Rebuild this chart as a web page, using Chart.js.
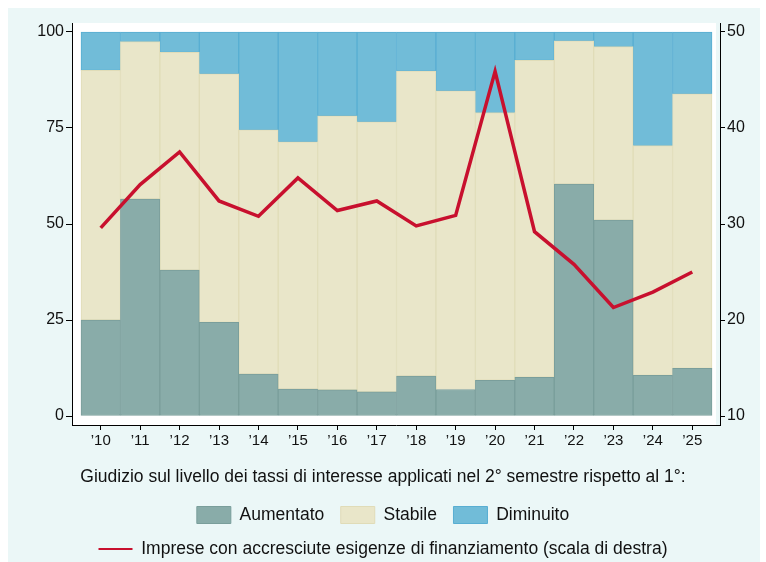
<!DOCTYPE html>
<html>
<head>
<meta charset="utf-8">
<script src="https://cdn.jsdelivr.net/npm/chart.js@4/dist/chart.umd.min.js"></script>
<style>
  html, body { margin: 0; padding: 0; background: #fff; overflow: hidden; }
  #wrap { position: absolute; left: 0; top: 0; width: 766px; height: 562px; overflow: hidden; }
  canvas { position: absolute; left: 0; top: 0; }
</style>
</head>
<body>
<div id="wrap"><canvas id="chart" width="766" height="570"></canvas></div>
<script>
const years = ["’10", "’11", "’12", "’13", "’14", "’15", "’16", "’17", "’18", "’19", "’20", "’21", "’22", "’23", "’24", "’25"];
const aumentato = [25.0, 56.5, 38.0, 24.4, 10.9, 7.0, 6.8, 6.3, 10.4, 6.9, 9.3, 10.1, 60.4, 51.0, 10.6, 12.4];
const stabile = [65.0, 41.0, 56.7, 64.7, 63.6, 64.4, 71.4, 70.3, 79.4, 77.8, 69.7, 82.5, 37.3, 45.2, 59.8, 71.5];
const diminuito = [10.0, 2.5, 5.3, 10.9, 25.5, 28.6, 21.8, 23.4, 10.2, 15.3, 21.0, 7.4, 2.3, 3.8, 29.6, 16.1];
const esigenze = [29.6, 34.1, 37.5, 32.4, 30.8, 34.8, 31.4, 32.4, 29.8, 30.9, 45.9, 29.2, 25.8, 21.3, 22.9, 25.0];
const leftTicks = [0, 25, 50, 75, 100];
const rightTicks = [10, 20, 30, 40, 50];

Chart.defaults.font.family = '"Liberation Sans", Arial, sans-serif';
Chart.defaults.color = '#111';

const toPoints = arr => arr.map((v, i) => ({ x: i, y: v }));

// sfondo azzurro e riquadro bianco del grafico
const backdrop = {
  id: 'backdrop',
  beforeDraw(chart) {
    const { ctx, chartArea: a } = chart;
    ctx.save();
    ctx.fillStyle = '#ebf7f7';
    ctx.fillRect(8, 8, 752, chart.height - 8);
    ctx.fillStyle = '#ffffff';
    ctx.fillRect(a.left + 1, a.top, a.right - a.left - 5, a.bottom - a.top);
    ctx.restore();
  }
};

function barSet(label, data, bg, border) {
  return {
    type: 'bar', label, data: toPoints(data), yAxisID: 'y', stack: 'giudizio',
    backgroundColor: bg, borderColor: border, borderWidth: 1, borderSkipped: false,
    barPercentage: 1, categoryPercentage: 1, order: 1
  };
}

new Chart(document.getElementById('chart'), {
  data: {
    datasets: [
      barSet('Aumentato', aumentato, '#89aca9', '#7a9e9b'),
      barSet('Stabile', stabile, '#e9e6c9', '#e0dcb8'),
      barSet('Diminuito', diminuito, '#71bcd8', '#58aed2'),
      {
        type: 'line', label: 'Imprese con accresciute esigenze di finanziamento (scala di destra)',
        data: toPoints(esigenze), yAxisID: 'y2', borderColor: '#c8102e', backgroundColor: '#c8102e',
        borderWidth: 3.5, pointRadius: 0, tension: 0, order: 0
      }
    ]
  },
  options: {
    responsive: false,
    animation: false,
    layout: { padding: { top: 23, bottom: 2.25, left: 0, right: 0 } },
    scales: {
      x: {
        type: 'linear', min: -0.7282, max: 15.7029, offset: false,
        afterBuildTicks: s => { s.ticks = years.map((_, i) => ({ value: i })); },
        afterFit: s => { s.height = 39.75; },
        ticks: { callback: v => years[v], font: { size: 15 }, color: '#111', padding: 2, maxRotation: 0, autoSkip: false },
        grid: { drawOnChartArea: false, offset: false, tickLength: 5, color: '#000' },
        border: { display: true, color: '#000', width: 1 }
      },
      y: {
        position: 'left', stacked: true, min: -2.34375, max: 102.34375,
        afterBuildTicks: s => { s.ticks = leftTicks.map(v => ({ value: v })); },
        afterFit: s => { s.width = 72; },
        ticks: { font: { size: 16 }, color: '#111', padding: 2 },
        grid: { drawOnChartArea: false, tickLength: 6, color: '#000' },
        border: { display: true, color: '#000', width: 1 }
      },
      y2: {
        position: 'right', min: 9.0625, max: 50.9375,
        afterBuildTicks: s => { s.ticks = rightTicks.map(v => ({ value: v })); },
        afterFit: s => { s.width = 46; },
        ticks: { font: { size: 16 }, color: '#111', padding: 2 },
        grid: { drawOnChartArea: false, tickLength: 5, color: '#000' },
        border: { display: true, color: '#000', width: 1 }
      }
    },
    plugins: {
      tooltip: { enabled: false },
      legend: {
        position: 'bottom',
        title: {
          display: true,
          text: 'Giudizio sul livello dei tassi di interesse applicati nel 2° semestre rispetto al 1°:',
          font: { size: 17.5 }, color: '#111', padding: { top: 4, bottom: 0 }
        },
        labels: {
          usePointStyle: true, pointStyleWidth: 34, boxHeight: 17, padding: 16.5,
          font: { size: 17.5 }, color: '#111',
          sort: (a, b) => a.datasetIndex - b.datasetIndex,
          generateLabels(chart) {
            const items = Chart.defaults.plugins.legend.labels.generateLabels(chart);
            items.forEach(it => {
              if (it.datasetIndex === 3) { it.pointStyle = 'line'; it.lineWidth = 2; }
              else { it.pointStyle = 'rect'; it.lineWidth = 1; }
            });
            return items;
          }
        }
      }
    }
  },
  plugins: [backdrop]
});
</script>
</body>
</html>
